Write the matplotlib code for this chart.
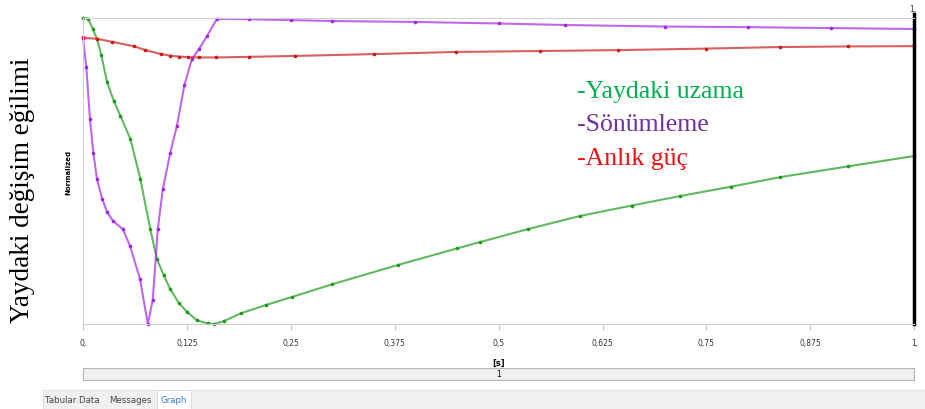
import matplotlib.pyplot as plt
from matplotlib.patches import Rectangle

# Normalized responses over time [s]
t_spring = [0, 0.006, 0.012, 0.017, 0.022, 0.029, 0.037, 0.045, 0.057, 0.069, 0.081,
            0.089, 0.097, 0.105, 0.115, 0.125, 0.137, 0.15, 0.158, 0.17, 0.19, 0.22, 0.251,
            0.3, 0.379, 0.45, 0.478, 0.535, 0.598, 0.66, 0.718, 0.78, 0.839, 0.92, 1.0]
spring = [1.0, 0.998, 0.964, 0.93, 0.88, 0.79, 0.73, 0.68, 0.605, 0.474, 0.31,
          0.212, 0.16, 0.114, 0.07, 0.04, 0.012, 0.002, 0.0, 0.01, 0.035, 0.062, 0.088,
          0.13, 0.193, 0.247, 0.268, 0.31, 0.353, 0.387, 0.418, 0.449, 0.48, 0.515, 0.549]

t_damper = [0, 0.004, 0.0084, 0.0125, 0.0168, 0.023, 0.029, 0.036, 0.048, 0.0566,
            0.0686, 0.078, 0.084, 0.09, 0.096, 0.105, 0.113, 0.122, 0.131, 0.14,
            0.149, 0.161, 0.2, 0.25, 0.3, 0.4, 0.5, 0.58, 0.7, 0.8, 0.9, 1.0]
damper = [0.938, 0.84, 0.67, 0.56, 0.474, 0.41, 0.366, 0.337, 0.31, 0.255,
          0.147, 0.0, 0.08, 0.31, 0.44, 0.56, 0.647, 0.78, 0.866, 0.9,
          0.94, 0.997, 0.996, 0.993, 0.99, 0.987, 0.982, 0.977, 0.972, 0.97, 0.967, 0.964]

t_power = [0, 0.017, 0.035, 0.061, 0.075, 0.094, 0.105, 0.115, 0.126, 0.14, 0.16,
           0.2, 0.255, 0.35, 0.449, 0.55, 0.644, 0.75, 0.838, 0.92, 1.0]
power = [0.935, 0.932, 0.922, 0.908, 0.895, 0.882, 0.877, 0.874, 0.872, 0.871, 0.871,
         0.873, 0.876, 0.882, 0.889, 0.892, 0.895, 0.9, 0.905, 0.907, 0.908]

xticks = [0, 0.125, 0.25, 0.375, 0.5, 0.625, 0.75, 0.875, 1.0]
xtick_labels = ['0,', '0,125', '0,25', '0,375', '0,5', '0,625', '0,75', '0,875', '1,']

legend_items = [('-Yaydaki uzama', '#00b050'),
                ('-Sönümleme', '#7030a0'),
                ('-Anlık güç', '#f01010')]

fig = plt.figure(figsize=(9.25, 4.1), dpi=100)
ax = fig.add_axes([0.0897, 0.2073, 0.8987, 0.7464])

series = [(t_spring, spring, '#1e9a1e'),
          (t_damper, damper, '#a326e6'),
          (t_power, power, '#cc1a1a')]
for t, v, c in series:
    ax.plot(t, v, color=c, lw=1.5, alpha=0.7, clip_on=False)
    ax.plot(t, v, ls='none', marker='o', ms=1.6, color=c, clip_on=False)

ax.set_xlim(0, 1)
ax.set_ylim(0, 1)
ax.set_xticks(xticks)
ax.set_xticklabels(xtick_labels, fontsize=5.5, color='#333333')
ax.set_yticks([])
ax.tick_params(axis='x', length=4, color='#c8c8c8', pad=6)
for side in ['left', 'bottom', 'top']:
    ax.spines[side].set_color('#d0d0d0')
ax.spines['right'].set_visible(False)

# cursor line at the end of the run
ax.axvline(1.0, ymin=0, ymax=1.013, color='black', lw=2.5, clip_on=False)
ax.text(0.998, 1.017, '1,', transform=ax.transAxes, ha='center', va='bottom',
        fontsize=5.5, color='#333333')

ax.set_xlabel('[s]', fontsize=6, fontweight='bold', labelpad=8)
ax.text(-0.017, 0.5, 'Normalized', transform=ax.transAxes, rotation=90,
        ha='center', va='center', fontsize=5, fontweight='bold')

fig.text(0.024, 0.537, 'Yaydaki değişim eğilimi', rotation=90, ha='center',
         va='center', fontsize=19.5, family='Liberation Serif')

for i, (label, c) in enumerate(legend_items):
    fig.text(0.624, 0.775 - i * 0.081, label, color=c, fontsize=18.5,
             family='Liberation Serif', ha='left', va='center')

# slider and tab strip below the graph
fig.patches.append(Rectangle((0.0897, 0.071), 0.8987, 0.029, transform=fig.transFigure,
                             facecolor='#f0f0f0', edgecolor='#b4b4b4', lw=0.8))
fig.text(0.539, 0.0855, '1', fontsize=5.5, ha='center', va='center')
fig.patches.append(Rectangle((0.047, 0.0), 0.953, 0.047, transform=fig.transFigure,
                             facecolor='#f0f0f2', edgecolor='#e0e0e0', lw=0.6))
fig.patches.append(Rectangle((0.17, 0.0), 0.036, 0.047, transform=fig.transFigure,
                             facecolor='white', edgecolor='#d8d8d8', lw=0.6))
fig.text(0.049, 0.023, 'Tabular Data', fontsize=6.2, va='center', color='#444444')
fig.text(0.118, 0.023, 'Messages', fontsize=6.2, va='center', color='#444444')
fig.text(0.173, 0.023, 'Graph', fontsize=6.2, va='center', color='#3a7bd5')

fig.savefig('out.png', dpi=100)
